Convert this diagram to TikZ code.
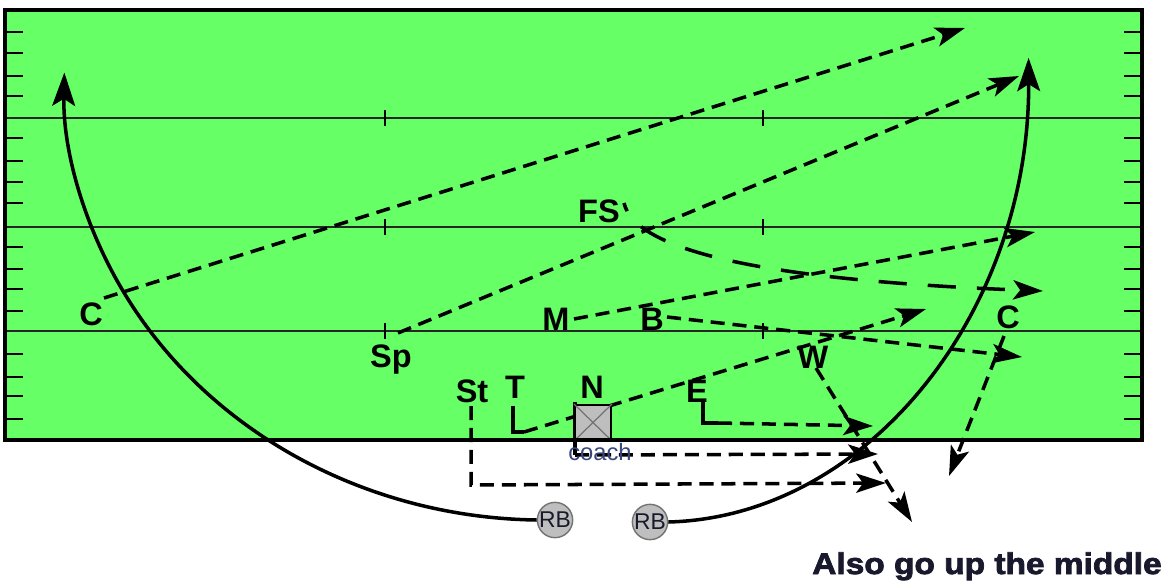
\documentclass[tikz,border=0pt]{standalone}
\usepackage{fontspec}
\setmainfont{Liberation Sans}
\newfontfamily\heavyfont[FakeStretch=1.12,FakeBold=2.5]{Liberation Sans}
\usetikzlibrary{arrows.meta}

\definecolor{turf}{RGB}{102,255,102}
\definecolor{chip}{RGB}{190,190,190}
\definecolor{coachblue}{RGB}{55,70,125}
\definecolor{ink}{RGB}{25,25,45}

\tikzset{
  player/.style={font=\bfseries\fontsize{18.5}{20}\selectfont, inner sep=0pt, anchor=base},
  route/.style={line width=2pt, dash pattern=on 8pt off 4.5pt,
                -{Stealth[length=17pt,width=11pt,inset=4pt]}},
  longroute/.style={route, dash pattern=on 16pt off 12pt, dash phase=11pt},
  legline/.style={line width=2pt},
  sweep/.style={line width=2pt, -{Stealth[length=19pt,width=13pt,inset=4pt]}},
  yardline/.style={line width=1.2pt, black!85},
  hash/.style={line width=1.1pt},
  back/.style={circle, draw=black!55, line width=0.8pt, fill=chip,
               minimum size=0.7cm, inner sep=0pt,
               font=\fontsize{13}{13}\selectfont, text=ink},
  centerbox/.style={draw, line width=1.2pt, fill=chip, minimum width=0.72cm,
                    minimum height=0.7cm, inner sep=0pt},
}

\begin{document}
\begin{tikzpicture}[x=0.02cm, y=-0.02cm]
\useasboundingbox[fill=white] (0,0) rectangle (1168,581);

% field
\fill[turf] (5,10) rectangle (1142,440);

% yard lines with midfield ticks
\foreach \yy in {118,227,331}{
  \draw[yardline] (5,\yy) -- (1142,\yy);
  \draw[hash] (385,\yy-8) -- (385,\yy+8);
  \draw[hash] (763,\yy-8) -- (763,\yy+8);
}
% side hash marks
\foreach \yy in {32,53,76,96,138,161,182,203,247,269,289,311,354,377,396,419}{
  \draw[hash] (5,\yy) -- (23,\yy);
  \draw[hash] (1124,\yy) -- (1142,\yy);
}

% players
\node[player] (cL) at (91,325) {C};
\node[player] (sp) at (391,367) {Sp};
\node[player] (fs) at (599,222) {FS};
\node[player] (mm) at (556,330) {M};
\node[player] (bb) at (652,330) {B};
\node[player] (st) at (472,402) {St};
\node[player] (tt) at (515,398) {T};
\node[player] (nn) at (592,398) {N};
\node[player] (ee) at (697,402) {E};
\node[player] (ww) at (813,368) {W};
\node[player] (cR) at (1008,328) {C};

\node[back] (rbL) at (555,520) {RB};
\node[back] (rbR) at (650,522) {RB};

% route end points
\coordinate (cLs) at (104,298);  \coordinate (cLe) at (965,28);
\coordinate (sps) at (398,333);  \coordinate (spe) at (1019,76);
\coordinate (fss) at (624,203);  \coordinate (fse) at (1043,291);
\coordinate (mms) at (574,319);  \coordinate (mme) at (1035,232);
\coordinate (bbs) at (667,317);  \coordinate (bbe) at (1022,357);
\coordinate (tt1) at (513,406);  \coordinate (tt2) at (513,432);
\coordinate (tt3) at (524,432);  \coordinate (tte) at (926,309);
\coordinate (ee1) at (703,402);  \coordinate (ee2) at (703,423);
\coordinate (ee3) at (718,423);  \coordinate (eee) at (873,426);
\coordinate (nn1) at (575,402);  \coordinate (nn2) at (575,455);
\coordinate (nne) at (878,454);
\coordinate (st1) at (471,406);  \coordinate (st2) at (471,485);
\coordinate (ste) at (886,483);
\coordinate (wws) at (816,368);  \coordinate (wwe) at (912,522);
\coordinate (cRs) at (1004,336); \coordinate (cRe) at (949,476);

% pass routes
\draw[route] (cLs) -- (cLe);
\draw[route] (sps) -- (spe);
\draw[longroute] (fss) .. controls (635,250) and (760,280) .. (fse);
\draw[route] (mms) -- (mme);
\draw[route] (bbs) -- (bbe);
\draw[legline] (tt1) -- (tt2) -- (tt3);
\draw[route] (tt3) -- (tte);
\draw[legline] (ee1) -- (ee2) -- (ee3);
\draw[route] (ee3) -- (eee);
\draw[legline] (nn1) -- (nn2);
\draw[route] (nn2) -- (nne);
\draw[route] (st1) -- (st2) -- (ste);
\draw[route] (wws) -- (wwe);
\draw[route] (cRs) -- (cRe);

% running back sweeps
\draw[sweep] (rbL.west) arc[start angle=269.1, end angle=179, x radius=9.6cm, y radius=8.8cm];
\draw[sweep] (rbR.east) arc[start angle=271.2, end angle=360.3, x radius=7.36cm, y radius=9.24cm];

% centre with the ball
\node[centerbox] (ctr) at (593,422.5) {};
\draw[black!55, line width=0.7pt] (ctr.north west) -- (ctr.south east)
                                  (ctr.north east) -- (ctr.south west);
\node[font=\fontsize{13.5}{14}\selectfont, text=coachblue, inner sep=0pt, anchor=base]
  (coach) at (600,460) {coach};

% field border
\draw[line width=2.3pt] (5,10) rectangle (1142,440);

% note
\node[font=\heavyfont\bfseries\fontsize{17}{18}\selectfont, text=ink, anchor=base east,
      inner sep=0pt] (note) at (1162,574) {Also go up the middle};
\end{tikzpicture}
\end{document}
